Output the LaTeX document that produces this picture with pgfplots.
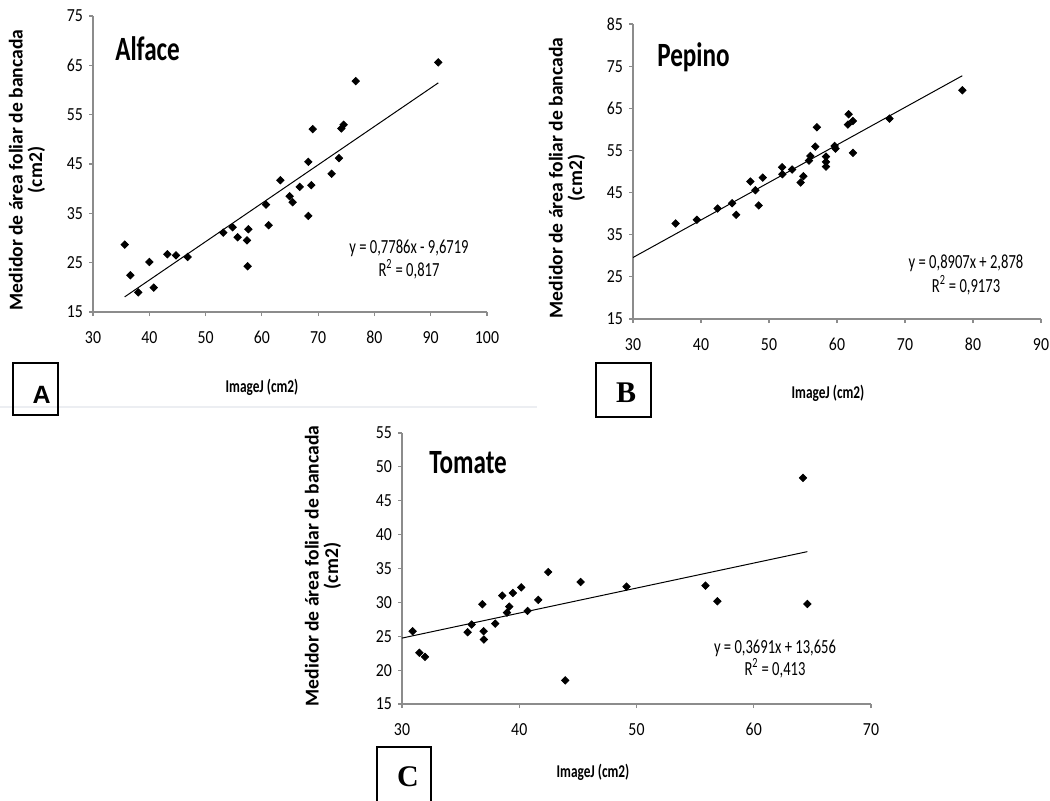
\documentclass[border=0pt]{standalone}
\usepackage{fontspec}
\setmainfont{Carlito}
\newfontfamily\boxserif{Liberation Serif}
\newfontfamily\boxsans{Liberation Sans}
\usepackage{pgfplots}
\pgfplotsset{compat=1.18}
\definecolor{axgray}{HTML}{8C8C8C}
\definecolor{sepgray}{HTML}{ECEEF2}

\pgfplotsset{
  panel/.style={
    scale only axis, anchor=south west, clip=false,
    axis lines=left,
    axis line style={-, draw=axgray, line width=0.6pt},
    tick align=outside, major tick length=2pt,
    tick style={draw=axgray, line width=0.6pt},
    ticklabel style={font=\fontsize{9.2}{9.2}\selectfont},
    xticklabel style={xscale=0.86, yshift=-4pt},
    yticklabel style={xscale=0.86},
    /pgf/number format/assume math mode=true,
  },
  pts/.style={only marks, mark=square*, mark size=1.3pt,
    mark options={rotate=45, fill=black, draw=black}},
  trend/.style={no marks, black, line width=0.5pt},
}

\begin{document}
\begin{tikzpicture}
\path[use as bounding box] (0pt,0pt) rectangle (525pt,-400pt);

% A - Alface
\begin{axis}[panel, at={(46.5pt,-156pt)}, width=197pt, height=148pt,
  xmin=30, xmax=100, xtick={30,40,...,100},
  ymin=15, ymax=75, ytick={15,25,...,75}]
\addplot[pts] coordinates {
 (35.63,28.67) (36.63,22.44) (38.05,18.99) (40.01,25.15) (40.78,19.94)
 (43.21,26.70) (44.75,26.50) (46.82,26.16) (53.15,31.10) (54.81,32.18)
 (55.70,30.15) (57.36,29.54) (57.60,31.78) (57.48,24.27) (60.74,36.78)
 (61.21,32.59) (63.28,41.72) (64.94,38.47) (65.47,37.26) (66.72,40.37)
 (68.26,45.44) (68.26,34.48) (68.79,40.71) (69.03,52.07) (72.40,43.01)
 (73.70,46.19) (74.12,52.20) (74.53,52.95) (76.67,61.81) (91.35,65.60)};
\addplot[trend] coordinates {(35.63,18.07) (91.35,61.45)};
\end{axis}

% B - Pepino
\begin{axis}[panel, at={(316.5pt,-159.5pt)}, width=204pt, height=147.5pt,
  xmin=30, xmax=90, xtick={30,40,...,90},
  ymin=15, ymax=85, ytick={15,25,...,85}]
\addplot[pts] coordinates {
 (36.26,37.67) (39.39,38.54) (42.43,41.22) (44.58,42.49) (45.17,39.72)
 (47.27,47.62) (48.00,45.57) (48.49,41.94) (49.08,48.57) (51.92,51.02)
 (51.97,49.36) (53.39,50.47) (54.66,47.39) (55.05,48.89) (55.88,52.60)
 (56.08,53.70) (56.81,55.92) (57.05,60.50) (58.38,53.55) (58.38,52.28)
 (58.38,51.18) (59.65,56.07) (59.79,55.44) (61.60,61.13) (61.70,63.58)
 (62.34,62.00) (62.34,54.42) (67.72,62.55) (78.43,69.27)};
\addplot[trend] coordinates {(30,29.60) (78.43,72.73)};
\end{axis}

% C - Tomate
\begin{axis}[panel, at={(201pt,-352pt)}, width=234.5pt, height=135.5pt,
  xmin=30, xmax=70, xtick={30,40,...,70},
  ymin=15, ymax=55, ytick={15,20,...,55}]
\addplot[pts] coordinates {
 (30.91,25.75) (31.48,22.56) (31.96,21.97) (35.60,25.60) (35.94,26.73)
 (36.85,29.72) (36.96,25.75) (36.99,24.52) (37.95,26.87) (38.55,31.00)
 (38.95,28.49) (39.15,29.38) (39.46,31.39) (40.17,32.22) (40.71,28.74)
 (41.62,30.36) (42.47,34.48) (43.92,18.48) (45.23,33.01) (49.15,32.32)
 (55.88,32.47) (56.90,30.16) (64.20,48.37) (64.57,29.77)};
\addplot[trend] coordinates {(30,24.73) (64.57,37.49)};
\end{axis}

\begin{scope}[x=0.5pt, y=-0.5pt]
  % separator line
  \draw[sepgray, line width=1pt] (0,407) -- (537,407);
  % titles
  \node[anchor=base west, inner sep=0, xscale=0.74, font=\bfseries\fontsize{17}{17}\selectfont] at (115,60) {Alface};
  \node[anchor=base west, inner sep=0, xscale=0.74, font=\bfseries\fontsize{17}{17}\selectfont] at (657,66) {Pepino};
  \node[anchor=base west, inner sep=0, xscale=0.74, font=\bfseries\fontsize{17}{17}\selectfont] at (429,473) {Tomate};
  % equations
  \begin{scope}[every node/.style={anchor=base, inner sep=0, xscale=0.73, font=\fontsize{10}{10}\selectfont}]
    \node at (409,253) {y = 0,7786x - 9,6719};
    \node at (409,276) {R\textsuperscript{2} = 0,817};
    \node at (966,268) {y = 0,8907x + 2,878};
    \node at (966,292) {R\textsuperscript{2} = 0,9173};
    \node at (775,653) {y = 0,3691x + 13,656};
    \node at (775,675) {R\textsuperscript{2} = 0,413};
  \end{scope}
  % x labels
  \begin{scope}[every node/.style={anchor=base, inner sep=0, xscale=0.74, font=\bfseries\fontsize{9}{9}\selectfont}]
    \node at (262,392) {ImageJ (cm2)};
    \node at (828,398) {ImageJ (cm2)};
    \node at (593,777) {ImageJ (cm2)};
  \end{scope}
  % y labels
  \begin{scope}[every node/.style={rotate=90, align=center, inner sep=0, font=\bfseries\fontsize{9.8}{9.8}\selectfont}]
    \node at (27,170) {Medidor de área foliar de bancada\\(cm2)};
    \node at (567,178) {Medidor de área foliar de bancada\\(cm2)};
    \node at (323,566) {Medidor de área foliar de bancada\\(cm2)};
  \end{scope}
  % panel boxes
  \draw[black, line width=1pt] (12.7,363.3) rectangle (58,414.5);
  \node[font=\boxsans\bfseries\fontsize{12.5}{12.5}\selectfont] at (41.7,394.7) {A};
  \draw[black, line width=1pt] (596,363) rectangle (651,417);
  \node[font=\boxserif\bfseries\fontsize{15}{15}\selectfont] at (626,393) {B};
  \draw[black, line width=1pt] (377.3,746.7) rectangle (430.7,806);
  \node[font=\boxserif\bfseries\fontsize{15}{15}\selectfont] at (408,776.7) {C};
\end{scope}
\end{tikzpicture}
\end{document}
